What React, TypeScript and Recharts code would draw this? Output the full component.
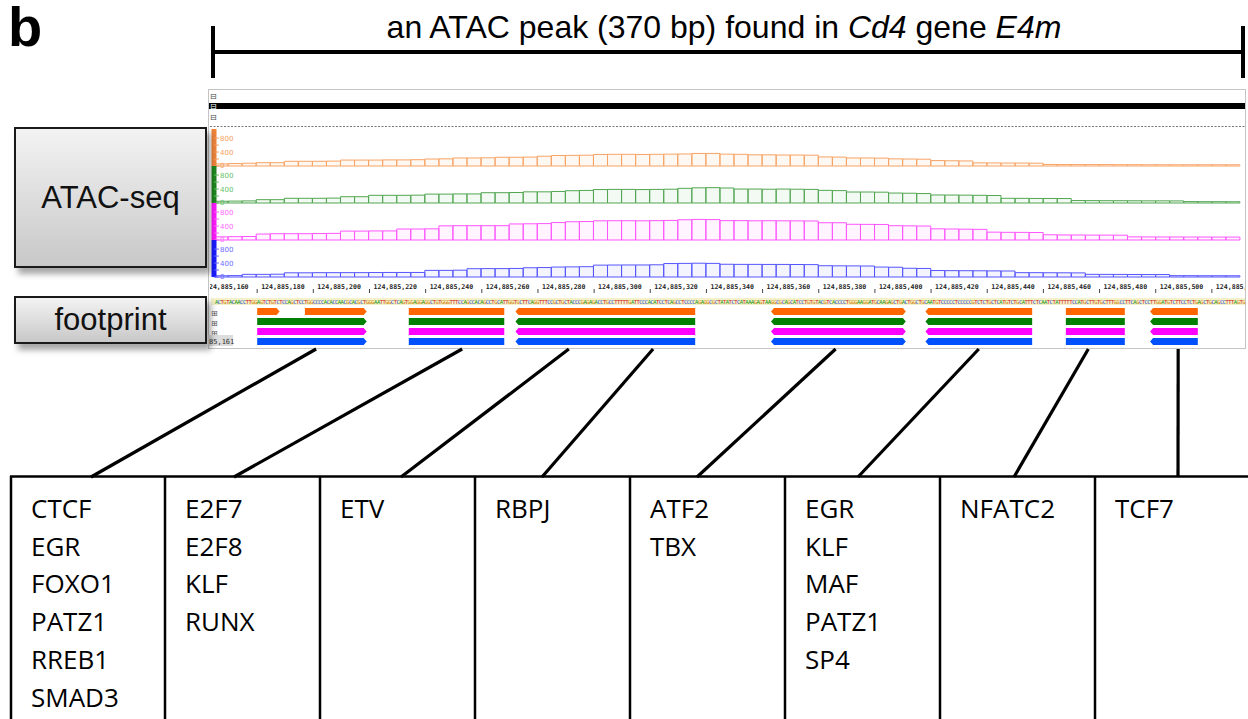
import React from "react";
import { BarChart, Bar, XAxis, YAxis } from "recharts";

// positions are bp past chr 124,885,000
const BASE_BP = 124885000;
const BIN_START = 165;
const BIN_BP = 5;

// ATAC-seq coverage, 5-bp bins
const orangeCov = [60, 70, 80, 95, 95, 135, 135, 135, 140, 170, 170, 170, 175, 175, 180, 200, 205, 230, 230, 235, 250, 250, 255, 280, 300, 305, 310, 330, 335, 335, 330, 335, 340, 345, 360, 360, 340, 335, 320, 320, 315, 315, 310, 260, 255, 230, 230, 225, 205, 200, 195, 155, 150, 145, 90, 88, 85, 85, 80, 45, 42, 40, 40, 40, 38, 38, 36, 36, 35, 35, 35, 35, 35];
const greenCov = [50, 55, 60, 95, 95, 135, 135, 135, 140, 180, 180, 220, 220, 220, 225, 255, 255, 260, 260, 295, 295, 300, 320, 320, 330, 352, 360, 385, 390, 390, 385, 390, 395, 420, 435, 440, 430, 400, 400, 395, 400, 395, 390, 362, 355, 315, 315, 310, 285, 280, 270, 230, 228, 225, 220, 215, 135, 133, 130, 130, 128, 70, 68, 66, 66, 64, 62, 62, 60, 40, 38, 38, 36];
const magentaCov = [90, 95, 100, 170, 180, 180, 180, 185, 190, 255, 255, 260, 260, 315, 315, 320, 405, 410, 410, 410, 410, 460, 465, 470, 500, 523, 530, 550, 552, 552, 550, 555, 560, 580, 590, 585, 555, 555, 550, 552, 550, 548, 545, 495, 495, 450, 448, 445, 410, 405, 400, 320, 315, 310, 305, 225, 220, 218, 215, 150, 145, 143, 140, 140, 138, 90, 88, 86, 86, 85, 85, 84, 84];
const blueCov = [35, 40, 76, 76, 80, 120, 120, 124, 124, 125, 125, 128, 130, 130, 130, 190, 190, 195, 238, 240, 240, 245, 265, 270, 285, 290, 295, 340, 343, 345, 345, 350, 385, 390, 395, 390, 365, 362, 362, 360, 360, 358, 355, 323, 320, 318, 315, 285, 280, 250, 245, 185, 182, 180, 178, 175, 172, 124, 124, 122, 120, 118, 76, 75, 74, 72, 70, 70, 38, 38, 36, 36, 35];

const covTicks = [0, 200, 400, 600, 800];
const covLabelled = [0, 400, 800];
const coordTicks = [160, 180, 200, 220, 240, 260, 280, 300, 320, 340, 360, 380, 400, 420, 440, 460, 480, 500, 520];

const refSeq =
  "ACTGTACAACCTTGGAGTCTGTCTCCAGCTCCTGGCCCCACACCAACGCACGCTGGGAATTGGCTCAGTGGAGGAGGCTGTGGGTTTCCAGCCACAGCCTGCATTGGTGCTTCAGGTTTCCGCTGCTACCCGAGAGACCTGCCTTT" +
  "TTGATTCCCACATCCTCAGCCTCCCCAGAGGCGCTATATCTCATAAAGAGTAAGGCGCAGCATCCTGTGTACGTCACCCCTGGGAAGGATGCAAGAGCTGACTGGCTGCAATGTCCCCCTCCCCCGTCTCTGCTCATGTCTGCATTTCTCAATCTATTTTTCCATGCTTGTGCTTTGGCCTTCAGCTCCTTGGATGTCTTCCTCTGAGCTGCAGCCTTTAGTG";

// footprint features
const fpRows = ["sequence", "orange", "green", "magenta", "blue"];
const fpStart = [180, 197, 180, 234, 272, 363, 418, 468, 498];
const fpEnd = [188, 219, 219, 268, 336, 411, 456, 489, 515];
const fpTip = ["right", "right", "right", "none", "left", "both", "left", "none", "left"];
const allTracks = ["orange", "green", "magenta", "blue"];
const fpTracks = [["orange"], ["orange"], ["green", "magenta", "blue"], allTracks, allTracks, allTracks, allTracks, allTracks, allTracks];

const tfGroups = [
  ["CTCF", "EGR", "FOXO1", "PATZ1", "RREB1", "SMAD3"],
  ["E2F7", "E2F8", "KLF", "RUNX"],
  ["ETV"],
  ["RBPJ"],
  ["ATF2", "TBX"],
  ["EGR", "KLF", "MAF", "PATZ1", "SP4"],
  ["NFATC2"],
  ["TCF7"],
];
const connectorBp = [201, 253, 291, 321, 386, 437, 476, 508];

// layout
const SANS = "'Liberation Sans', Arial, Helvetica, sans-serif";
const X_AT_160 = 201;
const PX_PER_BP = 2.808;
const xOf = (bp: number) => X_AT_160 + (bp - 160) * PX_PER_BP;
const bpOf = (x: number) => 160 + (x - X_AT_160) / PX_PER_BP;
const CHART_LEFT = 209;
const AXIS_X = 214;
const AXIS_W = 1;
const TRACK_LEFT = AXIS_X + AXIS_W;
const TRACK_RIGHT = 1245;
const TRACK_H = 37;
const connectorTo = [91, 234, 401, 542, 697, 858, 1014, 1178];
const colLefts = [11, 165, 320, 475, 630, 785, 940, 1095];

const trackStyles = [
  { values: orangeCov, line: "#f7a365", light: "#fcd6b8", axis: "#f0843a", label: "#f7a060" },
  { values: greenCov, line: "#52a652", light: "#bde0bd", axis: "#1f851f", label: "#66c266" },
  { values: magentaCov, line: "#ff55ff", light: "#ffc0ff", axis: "#ff1aff", label: "#ff66ff" },
  { values: blueCov, line: "#5555ff", light: "#c0c0ff", axis: "#1a1aff", label: "#6b6bff" },
];

const fpColor: Record<string, string> = {
  orange: "#ff6600",
  green: "#008000",
  magenta: "#ff00ff",
  blue: "#0050ff",
};

const baseColor: Record<string, string> = { A: "#1a9a1a", C: "#1a3fd0", G: "#d08000", T: "#d02020" };

function CoverageTrack({ idx }: { idx: number }) {
  const t = trackStyles[idx];
  const data = t.values.map((v, i) => ({ pos: BIN_START + i * BIN_BP + BIN_BP / 2, v }));
  return (
    <div style={{ position: "absolute", left: CHART_LEFT, top: 129 + idx * TRACK_H }}>
      <BarChart
        width={TRACK_RIGHT - CHART_LEFT}
        height={TRACK_H + 6}
        data={data}
        margin={{ top: 0, right: 0, bottom: 6, left: AXIS_X - CHART_LEFT }}
        barCategoryGap={0}
      >
        <XAxis type="number" dataKey="pos" domain={[bpOf(TRACK_LEFT), bpOf(TRACK_RIGHT)]} allowDataOverflow hide />
        <Bar dataKey="v" fill={t.light} fillOpacity={0.18} stroke={t.line} strokeWidth={1} isAnimationActive={false} />
        <YAxis
          type="number"
          domain={[0, 1060]}
          ticks={covTicks}
          interval={0}
          width={AXIS_W}
          mirror
          axisLine={{ stroke: t.axis, strokeWidth: 5 }}
          tickLine={{ stroke: t.label }}
          tickSize={5}
          tickMargin={1}
          tickFormatter={(v: number) => (covLabelled.includes(v) ? String(v) : "")}
          tick={{ fontSize: 7, fill: t.label, fontFamily: "DejaVu Sans" }}
        />
      </BarChart>
    </div>
  );
}

const CoordTick = (props: any) => {
  const { x, y, payload } = props;
  const label = (BASE_BP + payload.value).toLocaleString("en-US");
  return (
    <g>
      <line x1={x} x2={x} y1={y + 1} y2={y + 5} stroke="#444" />
      <text x={x + 4} y={y + 1} fontSize={6.6} fontFamily="'DejaVu Sans Mono', monospace" fontWeight="bold" fill="#222">
        {label}
      </text>
    </g>
  );
};

const fpShape = (i: number) => (props: any) => {
  const { x, y, width, height, payload } = props;
  if (!payload || !payload.segs || !payload.segs[i] || !(width > 0)) return <g />;
  const tip = fpTip[i];
  const k = 3;
  const l = tip === "left" || tip === "both" ? x + k : x;
  const r = tip === "right" || tip === "both" ? x + width - k : x + width;
  const pts: number[][] = [[l, y], [r, y]];
  if (r < x + width) pts.push([x + width, y + height / 2]);
  pts.push([r, y + height], [l, y + height]);
  if (l > x) pts.push([x, y + height / 2]);
  return <polygon points={pts.map((p) => p.join(",")).join(" ")} fill={fpColor[payload.row]} />;
};

function FootprintPanel() {
  const data = fpRows.map((row) => ({
    row,
    segs: fpStart.map((s, i) => (fpTracks[i].includes(row) ? [s, fpEnd[i]] : null)),
  }));
  return (
    <div style={{ position: "absolute", left: 210, top: 276, width: TRACK_RIGHT - 210, height: 70, overflow: "hidden" }}>
      <div style={{ position: "absolute", left: X_AT_160 - 210, top: 0 }}>
        <BarChart
          layout="vertical"
          width={xOf(540) - X_AT_160}
          height={70}
          data={data}
          margin={{ top: 0, right: 0, bottom: 0, left: 0 }}
          barGap={-7}
          barCategoryGap={0}
        >
          <XAxis
            type="number"
            orientation="top"
            domain={[160, 540]}
            allowDataOverflow
            ticks={coordTicks}
            interval={0}
            height={20}
            axisLine={false}
            tickLine={false}
            tick={<CoordTick />}
          />
          <YAxis type="category" dataKey="row" hide />
          {fpStart.map((_, i) => (
            <Bar
              key={i}
              dataKey={(d: any) => d.segs[i]}
              barSize={7}
              fill="#888"
              shape={fpShape(i)}
              isAnimationActive={false}
            />
          ))}
        </BarChart>
      </div>
    </div>
  );
}

function grayBox(left: number, top: number, w: number, h: number, label: string) {
  return (
    <div
      style={{
        position: "absolute",
        left,
        top,
        width: w,
        height: h,
        boxSizing: "border-box",
        border: "2px solid #1a1a1a",
        background: "linear-gradient(#f3f3f3, #c8c8c8)",
        boxShadow: "4px 6px 6px rgba(0,0,0,0.35)",
        display: "flex",
        alignItems: "center",
        justifyContent: "center",
        fontFamily: SANS,
        fontSize: 31,
        color: "#111",
      }}
    >
      {label}
    </div>
  );
}

export default function App() {
  const seqStep = (TRACK_RIGHT - TRACK_LEFT) / refSeq.length;
  return (
    <div
      style={{
        position: "absolute",
        left: 0,
        top: 0,
        width: 1248,
        height: 719,
        overflow: "hidden",
        background: "#fff",
        fontFamily: SANS,
      }}
    >
      <svg width={1248} height={719} style={{ position: "absolute", left: 0, top: 0 }}>
        <text x={8} y={46} fontSize={56} fontWeight="bold" fontFamily={SANS} fill="#000">
          b
        </text>
        <text x={724} y={38} fontSize={32} fontFamily={SANS} textAnchor="middle" fill="#000">
          an ATAC peak (370 bp) found in <tspan fontStyle="italic">Cd4</tspan> gene{" "}
          <tspan fontStyle="italic">E4m</tspan>
        </text>
        {/* span bracket */}
        <line x1={213} x2={1243} y1={52} y2={52} stroke="#000" strokeWidth={4} />
        <line x1={213} x2={213} y1={26} y2={78} stroke="#000" strokeWidth={4} />
        <line x1={1243} x2={1243} y1={26} y2={78} stroke="#000" strokeWidth={4} />

        {/* IGV panel */}
        <rect x={208.5} y={89.5} width={1037} height={259} fill="#fff" stroke="#c4c4c4" />
        <rect x={209} y={103} width={1036} height={6} fill="#000" />
        <text x={210} y={99} fontSize={8} fontFamily="DejaVu Sans" fill="#444">⊟</text>
        <text x={210} y={109} fontSize={8} fontFamily="DejaVu Sans" fill="#fff">⊟</text>
        <text x={210} y={120} fontSize={8} fontFamily="DejaVu Sans" fill="#444">⊟</text>
        <line x1={210} x2={1245} y1={126.5} y2={126.5} stroke="#777" strokeDasharray="2 1.5" />

        {/* reference sequence */}
        <rect x={211} y={298} width={TRACK_RIGHT - 211} height={7} fill="#f4f0c8" />
        <text y={304} fontSize={5.5} fontFamily="'DejaVu Sans Mono', monospace">
          {refSeq.split("").map((b, i) => (
            <tspan key={i} x={TRACK_LEFT + i * seqStep} fill={baseColor[b] || "#333"}>
              {b}
            </tspan>
          ))}
        </text>
        <text x={211} y={316} fontSize={8} fontFamily="DejaVu Sans" fill="#555">⊞</text>
        <text x={211} y={326} fontSize={8} fontFamily="DejaVu Sans" fill="#555">⊞</text>
        <text x={211} y={336} fontSize={8} fontFamily="DejaVu Sans" fill="#555">⊞</text>
        <rect x={208} y={335} width={25} height={11} fill="#dcdcdc" />
        <text x={209} y={344} fontSize={7} fontFamily="'DejaVu Sans Mono', monospace" fill="#333">
          85,161
        </text>

        {/* connectors to TF table */}
        {connectorBp.map((bp, i) => (
          <line key={i} x1={xOf(bp)} y1={349} x2={connectorTo[i]} y2={477} stroke="#000" strokeWidth={3.2} />
        ))}

        {/* TF table */}
        <line x1={10} x2={1250} y1={476.5} y2={476.5} stroke="#000" strokeWidth={2.5} />
        {colLefts.map((x, i) => (
          <line key={i} x1={x} x2={x} y1={476} y2={730} stroke="#000" strokeWidth={2.5} />
        ))}
        {tfGroups.map((names, i) =>
          names.map((n, j) => (
            <text key={`${i}-${j}`} x={colLefts[i] + 20} y={518 + j * 37.7} fontSize={26} fontFamily="'Open Sans', sans-serif" fill="#000">
              {n}
            </text>
          ))
        )}
      </svg>

      <div style={{ position: "absolute", left: 210, top: 127, width: TRACK_RIGHT - 210, height: 155, overflow: "hidden" }}>
        <div style={{ position: "absolute", left: -210, top: -127 }}>
          {trackStyles.map((_, i) => (
            <CoverageTrack key={i} idx={i} />
          ))}
        </div>
      </div>

      <FootprintPanel />

      {grayBox(14, 127, 193, 141, "ATAC-seq")}
      {grayBox(14, 296, 193, 48, "footprint")}
    </div>
  );
}
